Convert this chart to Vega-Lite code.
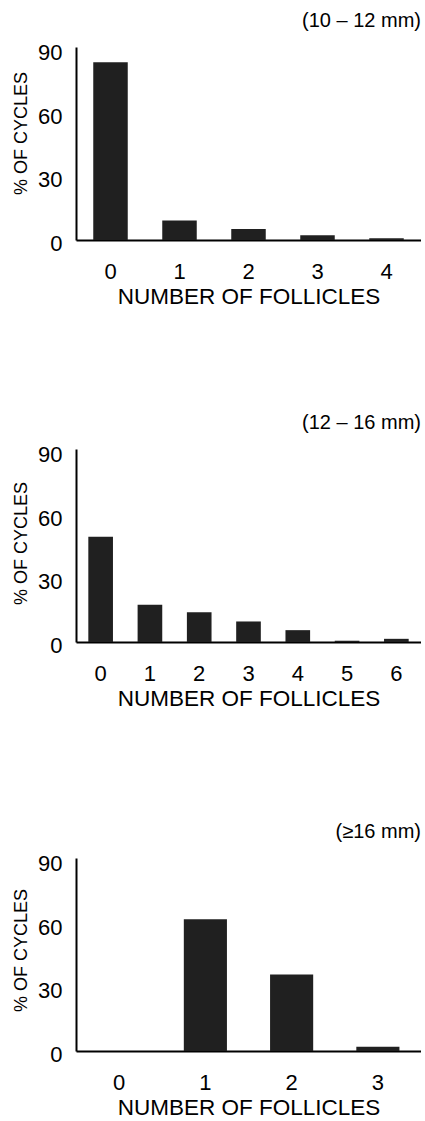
{
  "$schema": "https://vega.github.io/schema/vega-lite/v6.json",
  "padding": {"left": 12, "top": 10, "right": 0, "bottom": 0},
  "background": "white",
  "config": {
    "view": {"stroke": null},
    "font": "Liberation Sans",
    "axis": {"domainColor": "black", "domainWidth": 2, "ticks": false, "tickSize": 0, "grid": false, "labelColor": "black", "titleColor": "black", "labelFont": "Liberation Sans", "titleFont": "Liberation Sans", "titleFontWeight": "normal"},
    "axisX": {"labelFontSize": 22, "labelPadding": 21, "labelAngle": 0, "titleFontSize": 22.5, "titlePadding": 3},
    "axisY": {"labelFontSize": 22, "labelPadding": 14, "labelOffset": 3, "titleFontSize": 18, "titlePadding": 7},
    "title": {"fontSize": 20, "fontWeight": "normal", "anchor": "end", "color": "black", "font": "Liberation Sans", "offset": 11},
    "bar": {"color": "#202020"}
  },
  "datasets": {
    "p1": [
      {"follicles": 0, "pct": 84},
      {"follicles": 1, "pct": 9.2},
      {"follicles": 2, "pct": 5.2},
      {"follicles": 3, "pct": 2.2},
      {"follicles": 4, "pct": 0.8}
    ],
    "p2": [
      {"follicles": 0, "pct": 49.7},
      {"follicles": 1, "pct": 17.6},
      {"follicles": 2, "pct": 14.1},
      {"follicles": 3, "pct": 9.7},
      {"follicles": 4, "pct": 5.6},
      {"follicles": 5, "pct": 0.6},
      {"follicles": 6, "pct": 1.5}
    ],
    "p3": [
      {"follicles": 0, "pct": 0},
      {"follicles": 1, "pct": 62.3},
      {"follicles": 2, "pct": 36.1},
      {"follicles": 3, "pct": 2}
    ]
  },
  "spacing": 111,
  "vconcat": [
    {
      "spacing": 104,
      "vconcat": [
        {
          "title": {"text": "(10 – 12 mm)"},
          "data": {"name": "p1"},
          "width": 345,
          "height": 193,
          "mark": {"type": "bar"},
          "encoding": {
            "x": {"field": "follicles", "type": "ordinal", "title": "NUMBER OF FOLLICLES", "scale": {"paddingInner": 0.5, "paddingOuter": 0.25}},
            "y": {"field": "pct", "type": "quantitative", "title": "% OF CYCLES", "scale": {"domain": [0, 91.2], "nice": false}, "axis": {"values": [0, 30, 60, 90], "titleY": 86}}
          }
        },
        {
          "title": {"text": "(12 – 16 mm)"},
          "data": {"name": "p2"},
          "width": 345,
          "height": 193,
          "mark": {"type": "bar"},
          "encoding": {
            "x": {"field": "follicles", "type": "ordinal", "title": "NUMBER OF FOLLICLES", "scale": {"paddingInner": 0.5, "paddingOuter": 0.25}},
            "y": {"field": "pct", "type": "quantitative", "title": "% OF CYCLES", "scale": {"domain": [0, 91.2], "nice": false}, "axis": {"values": [0, 30, 60, 90], "titleY": 94}}
          }
        }
      ]
    },
    {
      "title": {"text": "(≥16 mm)"},
      "data": {"name": "p3"},
      "width": 345,
      "height": 193,
      "mark": {"type": "bar"},
      "encoding": {
        "x": {"field": "follicles", "type": "ordinal", "title": "NUMBER OF FOLLICLES", "scale": {"paddingInner": 0.5, "paddingOuter": 0.25}},
        "y": {"field": "pct", "type": "quantitative", "title": "% OF CYCLES", "scale": {"domain": [0, 91.2], "nice": false}, "axis": {"values": [0, 30, 60, 90], "titleY": 92}}
      }
    }
  ]
}
